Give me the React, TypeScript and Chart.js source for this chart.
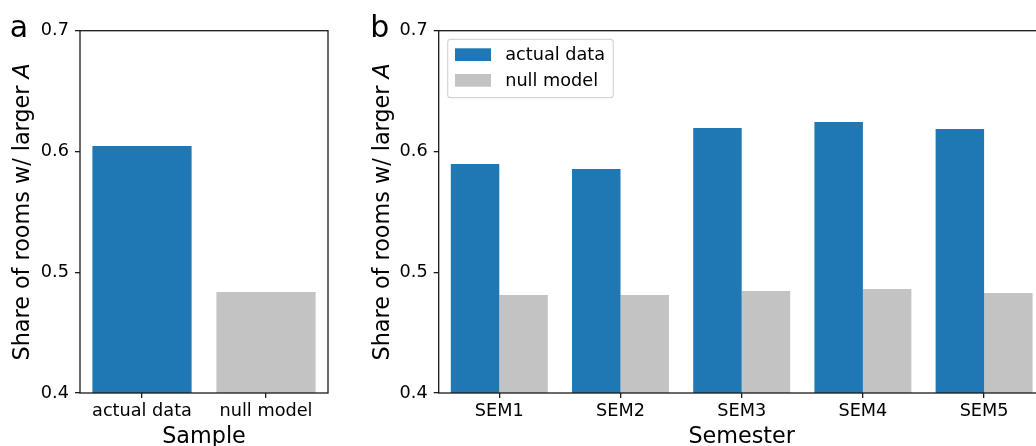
import React, { useEffect, useRef } from 'react';
import { Chart, registerables } from 'chart.js';

Chart.register(...registerables);

const FONT = "'DejaVu Sans', sans-serif";

const sampleCategories = ['actual data', 'null model'];
const sampleValues = [0.6045, 0.4836];

const semesterCategories = ['SEM1', 'SEM2', 'SEM3', 'SEM4', 'SEM5'];
const actualValues = [0.5896, 0.5855, 0.6194, 0.6244, 0.6186];
const nullValues = [0.4811, 0.4811, 0.4845, 0.4861, 0.4828];

const seriesLabels = ['actual data', 'null model'];
const yTicks = [0.4, 0.5, 0.6, 0.7];
const yTitle = 'Share of rooms w/ larger ';
const yTitleItalic = 'A';

const BLUE = '#1f77b4';
const GRAY = '#c3c3c3';
const TICK_SIZE = 17.7;
const TITLE_SIZE = 22.3;

type PanelCfg = {
  letter: string;
  letterX: number;
  xTitle: string;
  yTitleX: number;
  legend: boolean;
};

function overlayPlugin(cfg: PanelCfg) {
  return {
    id: 'overlay',
    afterDraw(chart: any) {
      const ctx = chart.ctx as CanvasRenderingContext2D;
      const a = chart.chartArea;
      ctx.save();
      ctx.strokeStyle = '#1a1a1a';
      ctx.lineWidth = 1.3;
      ctx.strokeRect(a.left, a.top, a.right - a.left, a.bottom - a.top);

      ctx.fillStyle = '#000';
      ctx.font = `30px ${FONT}`;
      ctx.textBaseline = 'alphabetic';
      ctx.textAlign = 'left';
      ctx.fillText(cfg.letter, cfg.letterX, 36.5);

      ctx.font = `${TITLE_SIZE}px ${FONT}`;
      ctx.textAlign = 'center';
      ctx.fillText(cfg.xTitle, (a.left + a.right) / 2, 443);

      const cy = (a.top + a.bottom) / 2;
      ctx.translate(cfg.yTitleX, cy);
      ctx.rotate(-Math.PI / 2);
      ctx.textAlign = 'left';
      ctx.font = `${TITLE_SIZE}px ${FONT}`;
      const w1 = ctx.measureText(yTitle).width;
      ctx.font = `italic ${TITLE_SIZE}px ${FONT}`;
      const w2 = ctx.measureText(yTitleItalic).width;
      const start = -(w1 + w2) / 2;
      ctx.font = `${TITLE_SIZE}px ${FONT}`;
      ctx.fillText(yTitle, start, 0);
      ctx.font = `italic ${TITLE_SIZE}px ${FONT}`;
      ctx.fillText(yTitleItalic, start + w1, 0);
      ctx.restore();

      if (cfg.legend) {
        ctx.save();
        const bx = a.left + 9;
        const by = a.top + 8.6;
        const bw = 165.6;
        const bh = 58.4;
        ctx.beginPath();
        (ctx as any).roundRect(bx, by, bw, bh, 3);
        ctx.fillStyle = 'rgba(255,255,255,0.8)';
        ctx.fill();
        ctx.strokeStyle = '#d6d6d6';
        ctx.lineWidth = 1.2;
        ctx.stroke();
        const ds = chart.data.datasets;
        ds.forEach((d: any, i: number) => {
          const py = a.top + 17.6 + i * 25.7;
          ctx.fillStyle = d.backgroundColor;
          ctx.fillRect(a.left + 16.3, py, 36, 12.7);
          ctx.fillStyle = '#000';
          ctx.font = `${TICK_SIZE}px ${FONT}`;
          ctx.textAlign = 'left';
          ctx.textBaseline = 'alphabetic';
          ctx.fillText(d.label, a.left + 66.5, py + 11.8);
        });
        ctx.restore();
      }
    },
  };
}

function scales(yWidth: number) {
  return {
    x: {
      offset: true,
      afterFit: (s: any) => {
        s.height = 53;
      },
      ticks: {
        font: { family: FONT, size: TICK_SIZE },
        color: '#000',
        padding: 3,
        maxRotation: 0,
        autoSkip: false,
      },
      grid: {
        offset: false,
        drawOnChartArea: false,
        drawTicks: true,
        tickLength: 5,
        color: '#1a1a1a',
        lineWidth: 1.3,
      },
      border: { display: false },
    },
    y: {
      min: 0.4,
      max: 0.7,
      afterFit: (s: any) => {
        s.width = yWidth;
      },
      afterBuildTicks: (s: any) => {
        s.ticks = yTicks.map((v) => ({ value: v }));
      },
      ticks: {
        font: { family: FONT, size: TICK_SIZE },
        color: '#000',
        padding: 6,
        callback: (v: any) => Number(v).toFixed(1),
      },
      grid: {
        drawOnChartArea: false,
        drawTicks: true,
        tickLength: 5,
        color: '#1a1a1a',
        lineWidth: 1.3,
      },
      border: { display: false },
    },
  };
}

export default function App() {
  const refA = useRef<HTMLCanvasElement | null>(null);
  const refB = useRef<HTMLCanvasElement | null>(null);

  useEffect(() => {
    const chartA = new Chart(refA.current as HTMLCanvasElement, {
      type: 'bar',
      data: {
        labels: sampleCategories,
        datasets: [
          {
            label: 'Sample',
            data: sampleValues,
            backgroundColor: [BLUE, GRAY],
            categoryPercentage: 0.8,
            barPercentage: 1.0,
          },
        ],
      },
      options: {
        responsive: false,
        animation: false,
        devicePixelRatio: 1,
        layout: { padding: { left: 0, right: 12, top: 30.7, bottom: 0 } },
        plugins: { legend: { display: false }, tooltip: { enabled: false } },
        scales: scales(80) as any,
      },
      plugins: [
        overlayPlugin({ letter: 'a', letterX: 9.7, xTitle: 'Sample', yTitleX: 29, legend: false }),
      ],
    });

    const chartB = new Chart(refB.current as HTMLCanvasElement, {
      type: 'bar',
      data: {
        labels: semesterCategories,
        datasets: [
          {
            label: seriesLabels[0],
            data: actualValues,
            backgroundColor: BLUE,
            categoryPercentage: 0.8,
            barPercentage: 1.0,
          },
          {
            label: seriesLabels[1],
            data: nullValues,
            backgroundColor: GRAY,
            categoryPercentage: 0.8,
            barPercentage: 1.0,
          },
        ],
      },
      options: {
        responsive: false,
        animation: false,
        devicePixelRatio: 1,
        layout: { padding: { left: 0, right: 15.3, top: 30.7, bottom: 0 } },
        plugins: { legend: { display: false }, tooltip: { enabled: false } },
        scales: scales(78.7) as any,
      },
      plugins: [
        overlayPlugin({ letter: 'b', letterX: 10.2, xTitle: 'Semester', yTitleX: 28.5, legend: true }),
      ],
    });

    return () => {
      chartA.destroy();
      chartB.destroy();
    };
  }, []);

  return (
    <div
      style={{
        position: 'fixed',
        left: 0,
        top: 0,
        width: 1036,
        height: 446,
        overflow: 'hidden',
        background: '#fff',
      }}
    >
      <canvas
        ref={refA}
        width={340}
        height={446}
        style={{ position: 'absolute', left: 0, top: 0, width: 340, height: 446 }}
      />
      <canvas
        ref={refB}
        width={700}
        height={446}
        style={{ position: 'absolute', left: 360, top: 0, width: 700, height: 446 }}
      />
    </div>
  );
}
